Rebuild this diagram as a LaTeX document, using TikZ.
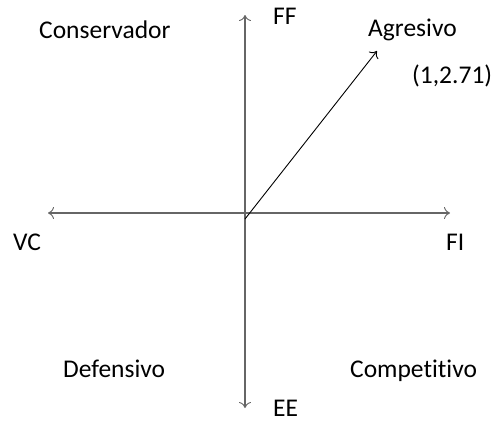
\documentclass[tikz,border=0pt]{standalone}
\usepackage{fontspec}
\setmainfont[Ligatures=NoCommon]{Carlito}
\usetikzlibrary{arrows.meta}
\begin{document}
\begin{tikzpicture}[x=1pt,y=-1pt,
  axis/.style={draw=black!60,line width=1.3pt,{To[length=6pt,width=12pt,line width=0.9pt]}-{To[length=6pt,width=12pt,line width=0.9pt]}},
  vec/.style={draw=black,line width=0.9pt,-{To[length=6pt,width=12pt]}},
  lbl/.style={font=\fontsize{25.5}{30}\selectfont,inner sep=0pt,anchor=base west}]
\useasboundingbox (0,0) rectangle (493,421);
\coordinate (L) at (48,213);
\coordinate (R) at (450,213);
\coordinate (T) at (245,15);
\coordinate (B) at (245,408);
\coordinate (O) at (245,219);
\coordinate (P) at (377,51);
\draw[axis] (L) -- (R);
\draw[axis] (B) -- (T);
\draw[vec] (O) -- (P);
\node[lbl] (cons) at (39,38) {Conservador};
\node[lbl] (ff) at (273,24) {FF};
\node[lbl] (agr) at (368,36) {Agresivo};
\node[lbl] (pt) at (412,83) {(1,2.71)};
\node[lbl] (vc) at (13,250) {VC};
\node[lbl] (fi) at (446,250) {FI};
\node[lbl] (def) at (63,377) {Defensivo};
\node[lbl] (comp) at (350,377) {Competitivo};
\node[lbl] (ee) at (273,416) {EE};
\end{tikzpicture}
\end{document}
